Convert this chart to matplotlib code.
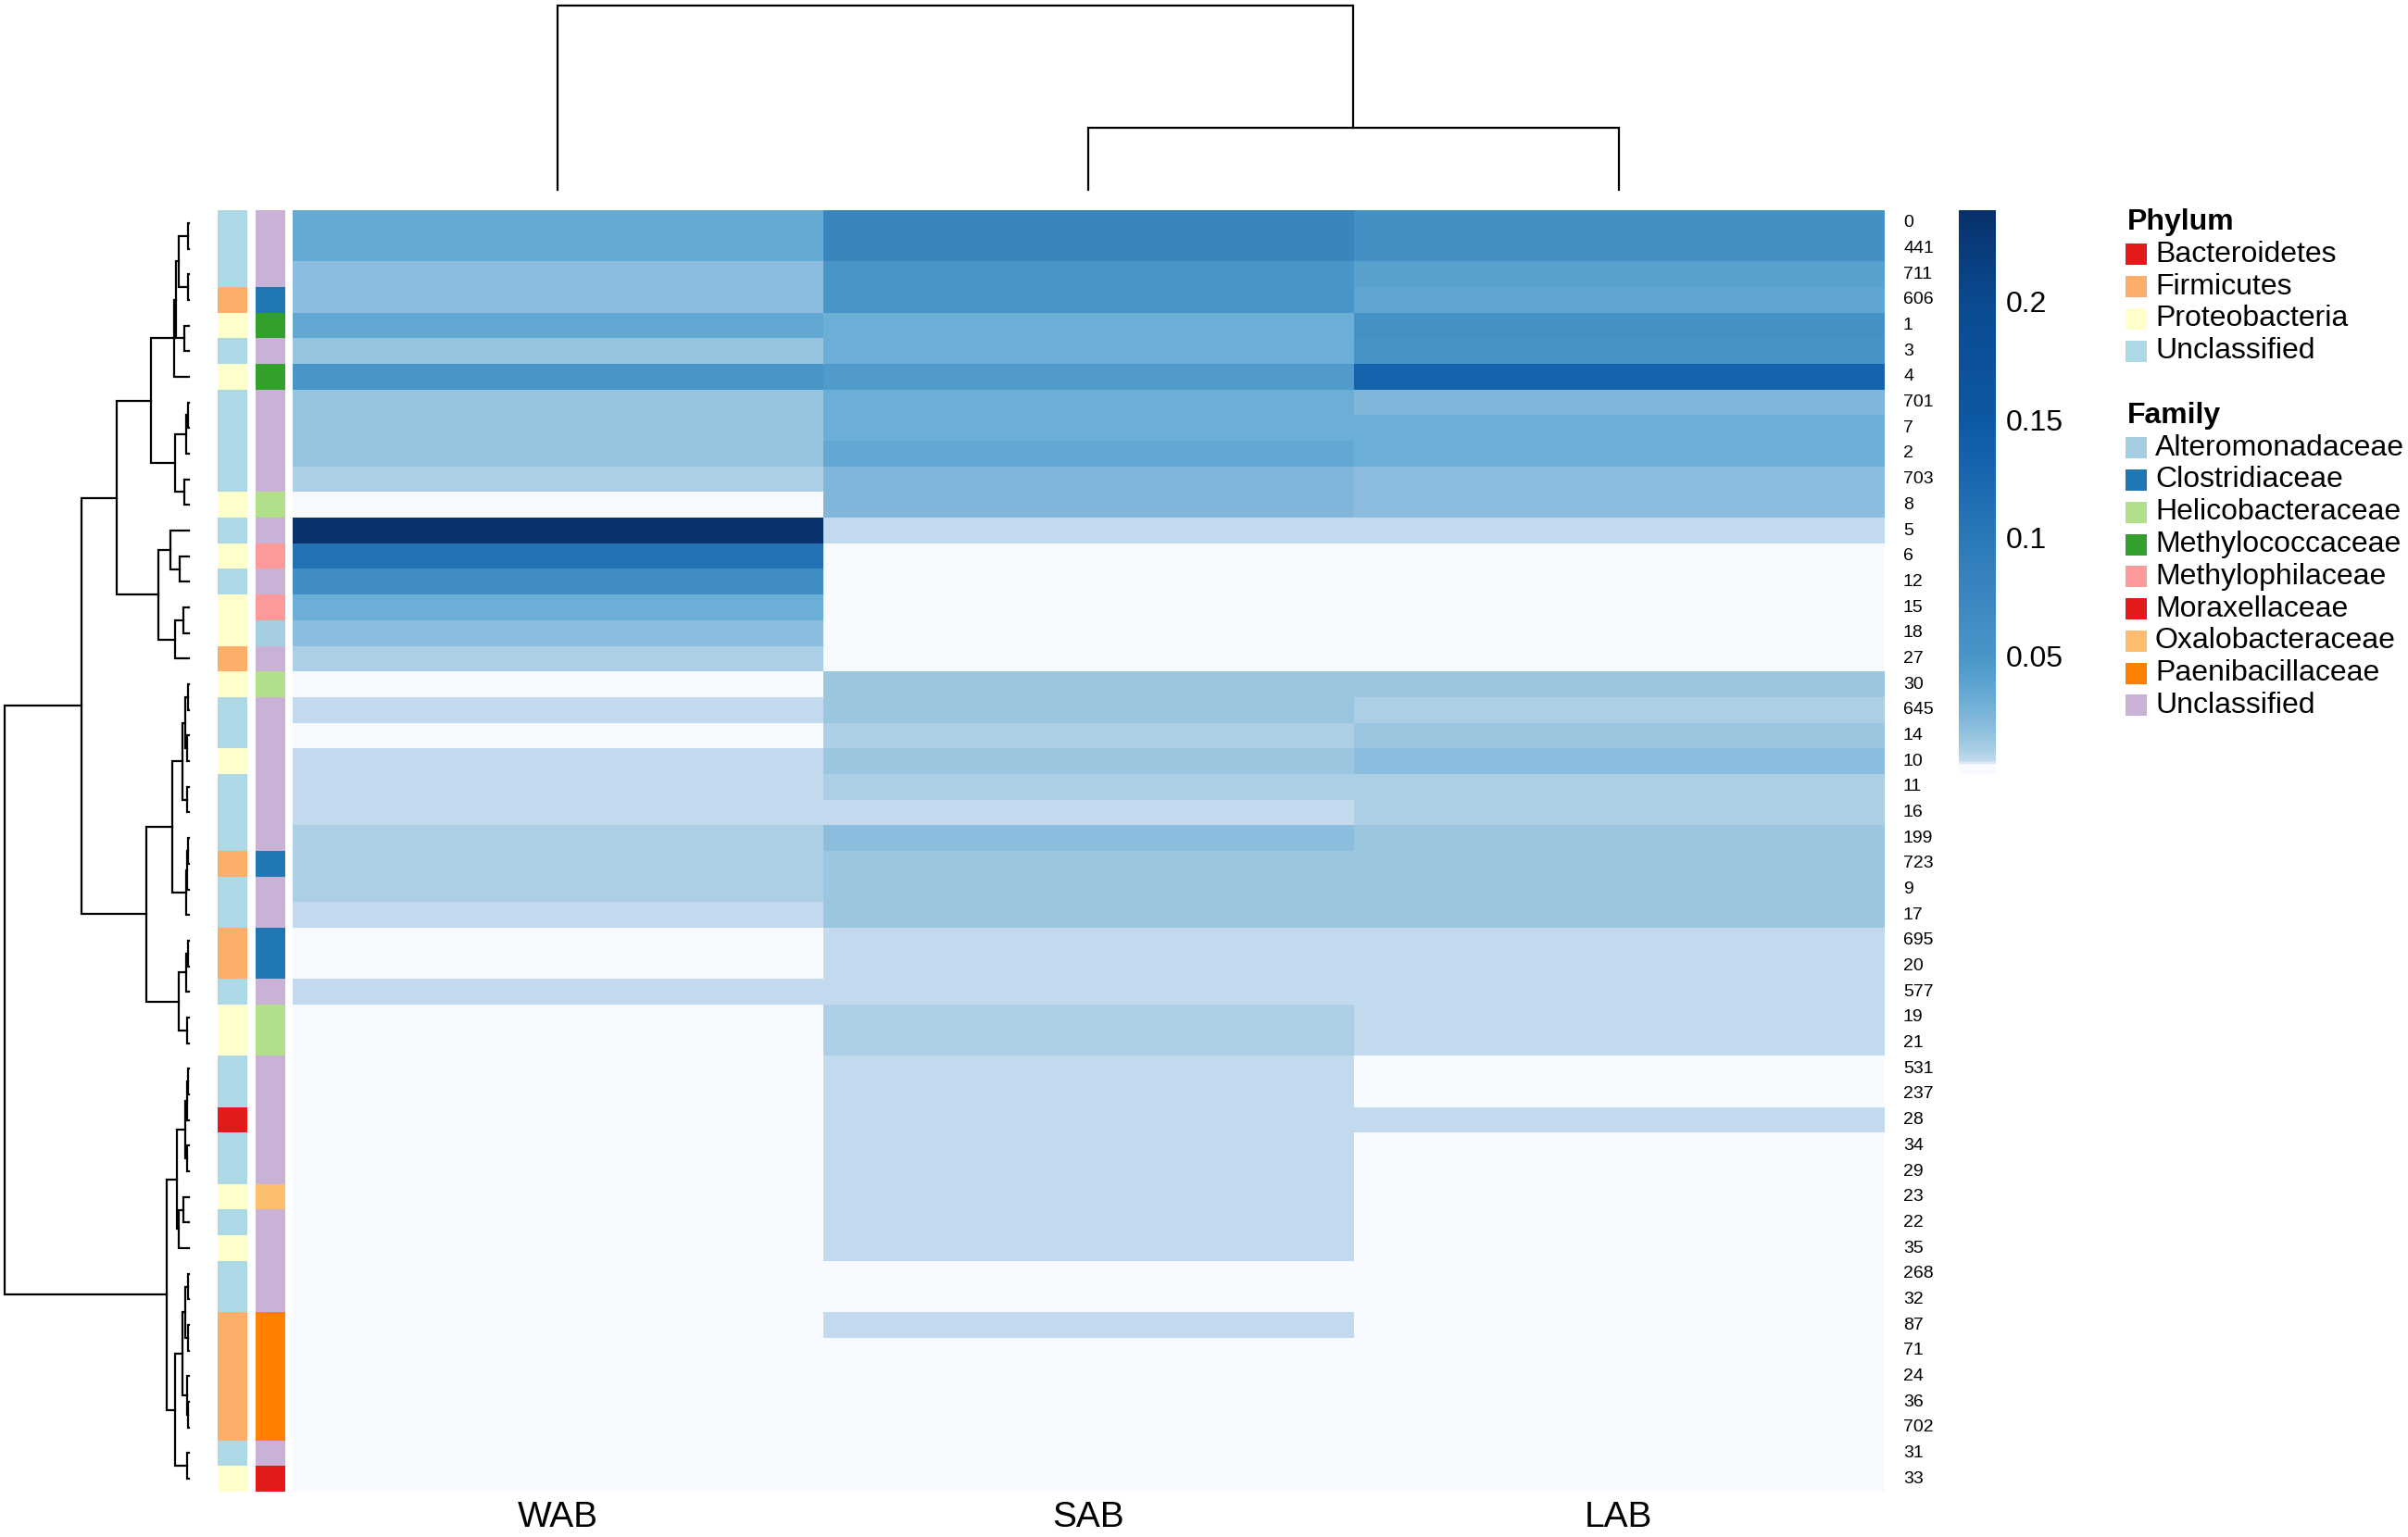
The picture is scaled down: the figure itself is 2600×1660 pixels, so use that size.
import matplotlib
matplotlib.use("Agg")
import numpy as np
import matplotlib.pyplot as plt
from matplotlib.colors import LinearSegmentedColormap, ListedColormap, Normalize
from matplotlib.patches import Rectangle
from matplotlib.transforms import offset_copy

plt.rcParams['font.family'] = ['Liberation Sans', 'DejaVu Sans']

# ---- data ----
samples = ['WAB', 'SAB', 'LAB']
otu_labels = ['0', '441', '711', '606', '1', '3', '4', '701', '7', '2',
              '703', '8', '5', '6', '12', '15', '18', '27', '30', '645',
              '14', '10', '11', '16', '199', '723', '9', '17', '695', '20',
              '577', '19', '21', '531', '237', '28', '34', '29', '23', '22',
              '35', '268', '32', '87', '71', '24', '36', '702', '31', '33']

wab = [0.034, 0.034, 0.020, 0.020, 0.035, 0.016, 0.050, 0.016, 0.016, 0.016,
       0.010, 0.000, 0.235, 0.110, 0.065, 0.031, 0.020, 0.010, 0.000, 0.006,
       0.000, 0.006, 0.006, 0.006, 0.010, 0.010, 0.010, 0.006, 0.000, 0.000,
       0.006, 0.000, 0.000, 0.000, 0.000, 0.000, 0.000, 0.000, 0.000, 0.000,
       0.000, 0.000, 0.000, 0.000, 0.000, 0.000, 0.000, 0.000, 0.000, 0.000]
sab = [0.075, 0.075, 0.050, 0.050, 0.031, 0.031, 0.045, 0.031, 0.031, 0.035,
       0.024, 0.024, 0.006, 0.000, 0.000, 0.000, 0.000, 0.000, 0.015, 0.015,
       0.010, 0.015, 0.010, 0.006, 0.020, 0.015, 0.015, 0.015, 0.006, 0.006,
       0.006, 0.010, 0.010, 0.006, 0.006, 0.006, 0.006, 0.006, 0.006, 0.006,
       0.006, 0.000, 0.000, 0.006, 0.000, 0.000, 0.000, 0.000, 0.000, 0.000]
lab = [0.060, 0.060, 0.040, 0.037, 0.058, 0.052, 0.130, 0.024, 0.031, 0.031,
       0.020, 0.020, 0.006, 0.000, 0.000, 0.000, 0.000, 0.000, 0.015, 0.010,
       0.015, 0.020, 0.010, 0.010, 0.015, 0.015, 0.015, 0.015, 0.006, 0.006,
       0.006, 0.006, 0.006, 0.000, 0.000, 0.006, 0.000, 0.000, 0.000, 0.000,
       0.000, 0.000, 0.000, 0.000, 0.000, 0.000, 0.000, 0.000, 0.000, 0.000]

phylum_names = ['Bacteroidetes', 'Firmicutes', 'Proteobacteria', 'Unclassified']
phylum_colors = ['#E31A1C', '#FDAE6B', '#FFFFCC', '#ADD8E6']
family_names = ['Alteromonadaceae', 'Clostridiaceae', 'Helicobacteraceae',
                'Methylococcaceae', 'Methylophilaceae', 'Moraxellaceae',
                'Oxalobacteraceae', 'Paenibacillaceae', 'Unclassified']
family_colors = ['#A6CEE3', '#1F78B4', '#B2DF8A', '#33A02C', '#FB9A99',
                 '#E31A1C', '#FDBF6F', '#FF7F00', '#CAB2D6']

U, F, P, B = 'Unclassified', 'Firmicutes', 'Proteobacteria', 'Bacteroidetes'
row_phylum = [U, U, U, F, P, U, P, U, U, U,
              U, P, U, P, U, P, P, F, P, U,
              U, P, U, U, U, F, U, U, F, F,
              U, P, P, U, U, B, U, U, P, U,
              P, U, U, F, F, F, F, F, U, P]
row_family = ['Unclassified'] * 3 + ['Clostridiaceae', 'Methylococcaceae', 'Unclassified',
              'Methylococcaceae'] + ['Unclassified'] * 4 + ['Helicobacteraceae', 'Unclassified',
              'Methylophilaceae', 'Unclassified', 'Methylophilaceae', 'Alteromonadaceae',
              'Unclassified', 'Helicobacteraceae'] + ['Unclassified'] * 6 + ['Clostridiaceae',
              'Unclassified', 'Unclassified', 'Clostridiaceae', 'Clostridiaceae', 'Unclassified',
              'Helicobacteraceae', 'Helicobacteraceae'] + ['Unclassified'] * 5 + \
             ['Oxalobacteraceae'] + ['Unclassified'] * 4 + ['Paenibacillaceae'] * 5 + \
             ['Unclassified', 'Moraxellaceae']

# row clustering: [height, left, right], leaves = row index
row_tree = [1.99,
            [1.16,
             [0.78,
              [0.41,
               [0.16, [0.145, [0.11, [0.01, 0, 1], [0.01, 2, 3]], [0.05, 4, 5]], 6],
               [0.15, [0.03, [0.01, 7, 8], 9], [0.05, 10, 11]]],
              [0.33,
               [0.20, 12, [0.10, 13, 14]],
               [0.15, [0.06, 15, 16], 17]]],
             [0.46,
              [0.18,
               [0.07, [0.04, [0.01, 18, 19], [0.02, 20, 21]], [0.02, 22, 23]],
               [0.03, [0.02, [0.01, 24, 25], 26], 27]],
              [0.11,
               [0.03, [0.01, 28, 29], 30],
               [0.02, 31, 32]]]],
            [0.24,
             [0.13,
              [0.045, [0.02, [0.01, 33, 34], 35], [0.02, 36, 37]],
              [0.11, [0.06, 38, 39], 40]],
             [0.15,
              [0.07, [0.04, [0.01, 41, 42], [0.01, 43, 44]], [0.02, 45, [0.01, 46, 47]]],
              [0.02, 48, 49]]]]
col_tree = [1.99, 0, [0.67, 1, 2]]

# ---- figure ----
W, H = 2600, 1660
fig = plt.figure(figsize=(W / 100, H / 100), dpi=100)

overlay = fig.add_axes([0, 0, 1, 1])
overlay.set_xlim(0, W)
overlay.set_ylim(H, 0)
overlay.axis('off')


def px_axes(x0, y0, x1, y1):
    ax = fig.add_axes([x0 / W, 1 - y1 / H, (x1 - x0) / W, (y1 - y0) / H])
    ax.axis('off')
    return ax


def draw_tree(ax, node, rows, lw):
    if isinstance(node, int):
        return node + 0.5, 0.0
    h, left, right = node
    c1, h1 = draw_tree(ax, left, rows, lw)
    c2, h2 = draw_tree(ax, right, rows, lw)
    hs = [h1, h, h, h2]
    cs = [c1, c1, c2, c2]
    if rows:
        ax.plot(hs, cs, color='black', lw=lw, clip_on=False, solid_joinstyle='miter')
    else:
        ax.plot(cs, hs, color='black', lw=lw, clip_on=False, solid_joinstyle='miter')
    return (c1 + c2) / 2, h


vmax = 0.2385
nodes = [(0.0, '#f7fbff'), (0.004, '#f7fbff'), (0.0052, '#c6dbef'), (0.01, '#abcfe5'),
         (0.015, '#9ac6e0'), (0.02, '#8bbddf'), (0.024, '#80b6da'), (0.031, '#6baed6'),
         (0.04, '#58a1cf'), (0.05, '#4896c8'), (0.1, '#2b78b8'), (0.13, '#1764ae'),
         (0.15, '#0d58a3'), (0.2, '#0a4a90'), (vmax, '#08306b')]
cmap = LinearSegmentedColormap.from_list('blues_custom', [(v / vmax, c) for v, c in nodes], N=512)
norm = Normalize(vmin=0, vmax=vmax)

values = np.array([wab, sab, lab]).T
n_rows = len(otu_labels)

# heatmap
hm = px_axes(316, 227, 2034, 1611)
im = hm.imshow(values, cmap=cmap, norm=norm, aspect='auto', interpolation='nearest',
               extent=(0, 3, n_rows, 0))
row_tr = offset_copy(hm.transData, fig=fig, x=21, y=0, units='dots')
for i, lbl in enumerate(otu_labels):
    hm.text(3, i + 0.5, lbl, transform=row_tr, ha='left', va='center', fontsize=14, clip_on=False)
col_tr = offset_copy(hm.transData, fig=fig, x=0, y=-28, units='dots')
for j, s in enumerate(samples):
    hm.text(j + 0.5, n_rows, s, transform=col_tr, ha='center', va='center', fontsize=28, clip_on=False)

# annotation bars
pax = px_axes(235, 227, 267, 1611)
pcodes = np.array([[phylum_names.index(p)] for p in row_phylum])
pax.imshow(pcodes, cmap=ListedColormap(phylum_colors), vmin=-0.5, vmax=len(phylum_names) - 0.5,
           aspect='auto', interpolation='nearest', extent=(0, 1, n_rows, 0))
fax = px_axes(276, 227, 308, 1611)
fcodes = np.array([[family_names.index(f)] for f in row_family])
fax.imshow(fcodes, cmap=ListedColormap(family_colors), vmin=-0.5, vmax=len(family_names) - 0.5,
           aspect='auto', interpolation='nearest', extent=(0, 1, n_rows, 0))

# dendrograms
rax = px_axes(5, 227, 204, 1611)
rax.set_xlim(row_tree[0], 0)
rax.set_ylim(n_rows, 0)
draw_tree(rax, row_tree, True, 1.6)

tax = px_axes(316, 6, 2034, 205)
tax.set_xlim(0, 3)
tax.set_ylim(0, col_tree[0])
draw_tree(tax, col_tree, False, 1.6)

# colour key
cbax = fig.add_axes([2115 / W, 1 - 836.5 / H, 40 / W, (836.5 - 227) / H])
cb = fig.colorbar(im, cax=cbax)
cb.outline.set_visible(False)
cb.set_ticks([0.05, 0.1, 0.15, 0.2])
cb.set_ticklabels(['0.05', '0.1', '0.15', '0.2'])
cbax.tick_params(length=0, labelsize=23, pad=8)

# annotation legend
step = 34.8
y0 = 240
groups = [('Phylum', phylum_names, phylum_colors), ('Family', family_names, family_colors)]
y = y0
for title, names, colors in groups:
    overlay.text(2297, y, title, fontsize=23, fontweight='bold', ha='left', va='center')
    for name, col in zip(names, colors):
        y += step
        overlay.add_patch(Rectangle((2295, y - 11.5), 23, 23, facecolor=col, edgecolor='none'))
        overlay.text(2327, y, name, fontsize=23, ha='left', va='center')
    y += 2 * step

fig.savefig('out.png', dpi=100, facecolor='white')
